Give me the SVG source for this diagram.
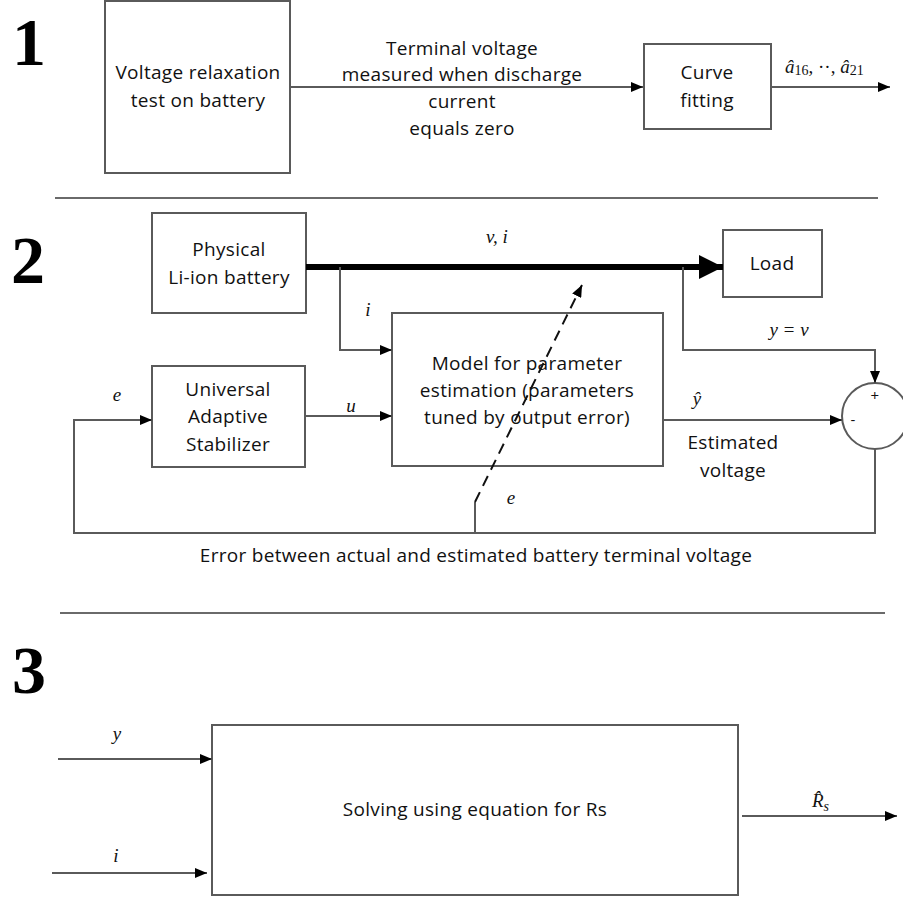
<svg xmlns="http://www.w3.org/2000/svg" width="903" height="899" viewBox="0 0 903 899">
<style>
.box{fill:#fff;stroke:#5a5a5a;stroke-width:2}
.ln{fill:none;stroke:#5a5a5a;stroke-width:2}
.sep{fill:none;stroke:#6a6a6a;stroke-width:2}
.t{font-family:"Open Sans","Liberation Sans",sans-serif;font-size:19px;letter-spacing:0.3px;fill:#111;text-anchor:middle}
.m{font-family:"Liberation Serif",serif;font-style:italic;font-size:19px;fill:#111;text-anchor:middle}
.mr{font-family:"Liberation Serif",serif;font-size:19px;fill:#111}
.num{font-family:"Liberation Serif",serif;font-weight:bold;font-size:68px;fill:#000;text-anchor:middle}
</style>
<defs>
<marker id="ah" viewBox="0 0 12 10" refX="12" refY="5" markerWidth="12" markerHeight="10" markerUnits="userSpaceOnUse" orient="auto"><path d="M0,0L12,5L0,10z" fill="#000"/></marker>
<marker id="ahb" viewBox="0 0 24 24" refX="24" refY="12" markerWidth="24" markerHeight="24" markerUnits="userSpaceOnUse" orient="auto"><path d="M0,0L24,12L0,24z" fill="#000"/></marker>
</defs>

<!-- section numbers -->
<text class="num" x="29" y="65">1</text>
<text class="num" x="28" y="283">2</text>
<text class="num" x="29" y="693">3</text>

<!-- separators -->
<line class="sep" x1="55" y1="198" x2="878" y2="198"/>
<line class="sep" x1="60" y1="613" x2="885" y2="613"/>

<g id="relax">
  <rect class="box" x="105" y="1" width="185" height="172"/>
  <text class="t" x="198" y="79">Voltage relaxation</text>
  <text class="t" x="198" y="107">test on battery</text>
</g>
<g id="curve">
  <rect class="box" x="644" y="44" width="127" height="85"/>
  <text class="t" x="707" y="79">Curve</text>
  <text class="t" x="707" y="107">fitting</text>
</g>
<g id="battery">
  <rect class="box" x="152" y="213" width="154" height="100"/>
  <text class="t" x="229" y="256">Physical</text>
  <text class="t" x="229" y="284">Li-ion battery</text>
</g>
<g id="load">
  <rect class="box" x="723" y="230" width="99" height="67"/>
  <text class="t" x="772" y="270">Load</text>
</g>
<g id="model">
  <rect class="box" x="392" y="313" width="271" height="153"/>
  <text class="t" x="527" y="370">Model for parameter</text>
  <text class="t" x="527" y="397">estimation (parameters</text>
  <text class="t" x="527" y="424">tuned by output error)</text>
</g>
<g id="uas">
  <rect class="box" x="152" y="366" width="153" height="101"/>
  <text class="t" x="228" y="396">Universal</text>
  <text class="t" x="228" y="423">Adaptive</text>
  <text class="t" x="228" y="451">Stabilizer</text>
</g>
<g id="sum">
  <circle cx="875" cy="416" r="33" fill="#fff" stroke="#5a5a5a" stroke-width="2"/>
  <text class="t" x="875" y="401" style="font-size:15px">+</text>
  <text class="t" x="853" y="425" style="font-size:15px">-</text>
</g>
<g id="solve">
  <rect class="box" x="212" y="725" width="526" height="170"/>
  <text class="t" x="475" y="816">Solving using equation for Rs</text>
</g>

<g id="connectors">
  <line class="ln" x1="290" y1="87" x2="643" y2="87" marker-end="url(#ah)"/>
  <line class="ln" x1="771" y1="87" x2="890" y2="87" marker-end="url(#ah)"/>
  <line x1="306" y1="267" x2="723" y2="267" stroke="#000" stroke-width="6" marker-end="url(#ahb)"/>
  <polyline class="ln" points="340,267 340,350 392,350" marker-end="url(#ah)"/>
  <polyline class="ln" points="683,267 683,350 875,350 875,383" marker-end="url(#ah)"/>
  <line class="ln" x1="305" y1="416" x2="392" y2="416" marker-end="url(#ah)"/>
  <line class="ln" x1="663" y1="420" x2="842" y2="420" marker-end="url(#ah)"/>
  <polyline class="ln" points="875,449 875,533 74,533 74,420 152,420" marker-end="url(#ah)"/>
  <line class="ln" x1="475" y1="533" x2="475" y2="502"/>
  <line x1="475" y1="502" x2="582" y2="285" stroke="#111" stroke-width="2" stroke-dasharray="11,7" marker-end="url(#ah)"/>
  <line class="ln" x1="58" y1="759" x2="212" y2="759" marker-end="url(#ah)"/>
  <line class="ln" x1="52" y1="873" x2="207" y2="873" marker-end="url(#ah)"/>
  <line class="ln" x1="742" y1="816" x2="897" y2="816" marker-end="url(#ah)"/>
</g>

<g id="labels">
  <text class="t" x="462" y="55">Terminal voltage</text>
  <text class="t" x="462" y="81">measured when discharge</text>
  <text class="t" x="462" y="108">current</text>
  <text class="t" x="462" y="135">equals zero</text>
  <text class="mr" x="785" y="73"><tspan font-style="italic">â</tspan><tspan font-size="14" dy="2">16</tspan><tspan dy="-2">, ··, </tspan><tspan font-style="italic">â</tspan><tspan font-size="14" dy="2">21</tspan></text>
  <text class="m" x="497" y="243">v, i</text>
  <text class="m" x="368" y="316">i</text>
  <text class="m" x="789" y="336">y = v</text>
  <text class="m" x="117" y="401">e</text>
  <text class="m" x="351" y="412">u</text>
  <text class="m" x="697" y="405">ŷ</text>
  <text class="t" x="733" y="449">Estimated</text>
  <text class="t" x="733" y="477">voltage</text>
  <text class="m" x="511" y="504">e</text>
  <text class="t" x="476" y="562">Error between actual and estimated battery terminal voltage</text>
  <text class="m" x="117" y="740">y</text>
  <text class="m" x="116" y="862">i</text>
  <text class="mr" x="812" y="807" font-style="italic">R̂<tspan font-size="14" dy="4">s</tspan></text>
</g>
</svg>
